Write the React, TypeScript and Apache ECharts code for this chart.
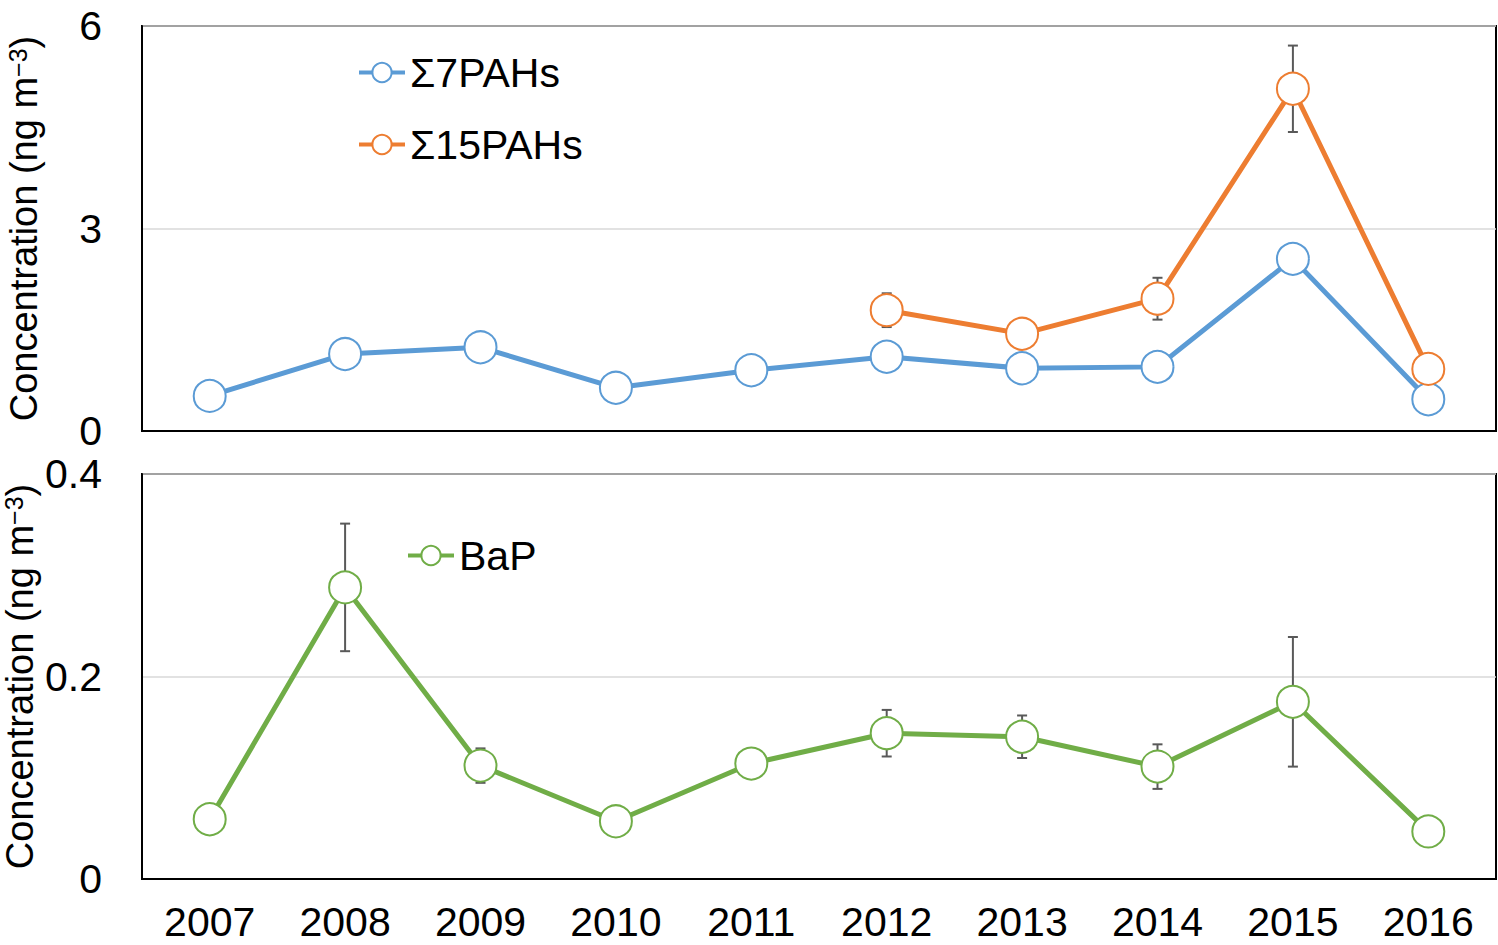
import React, { useEffect, useRef } from "react";
import * as echarts from "echarts";

const years = ["2007", "2008", "2009", "2010", "2011", "2012", "2013", "2014", "2015", "2016"];
const pah7 = [0.52, 1.14, 1.24, 0.64, 0.9, 1.1, 0.93, 0.95, 2.55, 0.47];
const pah15 = [null, null, null, null, null, 1.79, 1.44, 1.96, 5.07, 0.92];
const pah15Err = [0, 0, 0, 0, 0, 0.25, 0.15, 0.31, 0.64, 0.15];
const bap = [0.059, 0.288, 0.112, 0.057, 0.114, 0.144, 0.1405, 0.111, 0.175, 0.047];
const bapErr = [0, 0.063, 0.017, 0, 0, 0.023, 0.021, 0.022, 0.064, 0];

const FONT = "Liberation Sans, Arial, sans-serif";
const BLUE = "#5B9BD5";
const ORANGE = "#ED7D31";
const GREEN = "#70AD47";

function errData(vals: (number | null)[], errs: number[]) {
  const out: number[][] = [];
  vals.forEach((v, i) => {
    if (v != null && errs[i] > 0) out.push([i, v - errs[i], v + errs[i]]);
  });
  return out;
}

function errRender(params: any, api: any) {
  const i = api.value(0);
  const lo = api.coord([i, api.value(1)]);
  const hi = api.coord([i, api.value(2)]);
  const c = 5;
  const style = { stroke: "#595959", lineWidth: 2, fill: "none" };
  return {
    type: "group",
    children: [
      { type: "line", shape: { x1: lo[0], y1: lo[1], x2: hi[0], y2: hi[1] }, style },
      { type: "line", shape: { x1: hi[0] - c, y1: hi[1], x2: hi[0] + c, y2: hi[1] }, style },
      { type: "line", shape: { x1: lo[0] - c, y1: lo[1], x2: lo[0] + c, y2: lo[1] }, style },
    ],
  };
}

export default function App() {
  const ref = useRef<HTMLDivElement>(null);
  useEffect(() => {
    document.body.style.margin = "0";
    const chart = echarts.init(ref.current!, null, { renderer: "svg" });
    const yName = "{a|Concentration (ng m}{b|−3}{a|)}";
    const nameStyle = {
      rich: {
        a: { fontSize: 38, fontFamily: FONT, color: "#000", lineHeight: 38, verticalAlign: "bottom" },
        b: { fontSize: 25, fontFamily: FONT, color: "#000", lineHeight: 38, verticalAlign: "top" },
      },
    };
    const xCommon = {
      type: "category",
      data: years,
      boundaryGap: true,
      axisLine: { lineStyle: { color: "#000", width: 2 } },
      axisTick: { inside: true, length: 12, lineStyle: { color: "#000", width: 2 } },
      splitLine: { show: false },
    };
    const yCommon = {
      type: "value",
      min: 0,
      nameLocation: "middle",
      nameRotate: 90,
      nameMoveOverlap: false,
      nameTextStyle: nameStyle,
      axisLine: { show: true, lineStyle: { color: "#000", width: 2 } },
      axisTick: { show: false },
      splitLine: { show: true, lineStyle: { color: "#d9d9d9", width: 1.5 } },
      axisLabel: { fontSize: 41, fontFamily: FONT, color: "#000", margin: 40 },
    };
    const sym = { symbol: "circle", symbolSize: 32 };
    const gridCommon = {
      left: 142,
      width: 1354,
      height: 405,
      show: true,
      borderColor: "#000",
      borderWidth: 2,
      backgroundColor: "transparent",
      containLabel: false,
      outerBoundsMode: "none",
    };
    const legendCommon = {
      padding: 0,
      itemWidth: 46,
      itemHeight: 24,
      lineStyle: { width: 4 },
      itemStyle: { borderWidth: 2 },
      textStyle: { fontSize: 41, fontFamily: FONT, color: "#000" },
    };
    chart.setOption({
      animation: false,
      backgroundColor: "#fff",
      grid: [
        { ...gridCommon, top: 26 },
        { ...gridCommon, top: 474 },
      ],
      legend: [
        {
          ...legendCommon,
          data: ["Σ7PAHs", "Σ15PAHs"],
          orient: "vertical",
          left: 357,
          top: 52,
          itemGap: 31,
        },
        {
          ...legendCommon,
          data: ["BaP"],
          left: 406,
          top: 535,
        },
      ],
      xAxis: [
        { ...xCommon, gridIndex: 0, axisLabel: { show: false } },
        {
          ...xCommon,
          gridIndex: 1,
          axisLabel: { fontSize: 41, lineHeight: 34, fontFamily: FONT, color: "#000", margin: 26 },
        },
      ],
      yAxis: [
        { ...yCommon, gridIndex: 0, max: 6, interval: 3, name: yName, nameGap: 99 },
        { ...yCommon, gridIndex: 1, max: 0.4, interval: 0.2, name: yName, nameGap: 103 },
      ],
      series: [
        {
          type: "custom",
          name: "err15",
          xAxisIndex: 0,
          yAxisIndex: 0,
          renderItem: errRender,
          data: errData(pah15, pah15Err),
          z: 1,
          silent: true,
        },
        {
          type: "custom",
          name: "errBap",
          xAxisIndex: 1,
          yAxisIndex: 1,
          renderItem: errRender,
          data: errData(bap, bapErr),
          z: 1,
          silent: true,
        },
        {
          type: "line",
          name: "Σ7PAHs",
          xAxisIndex: 0,
          yAxisIndex: 0,
          data: pah7,
          ...sym,
          z: 3,
          lineStyle: { color: BLUE, width: 5 },
          itemStyle: { color: "#fff", borderColor: BLUE, borderWidth: 2 },
        },
        {
          type: "line",
          name: "Σ15PAHs",
          xAxisIndex: 0,
          yAxisIndex: 0,
          data: pah15,
          ...sym,
          z: 4,
          lineStyle: { color: ORANGE, width: 5 },
          itemStyle: { color: "#fff", borderColor: ORANGE, borderWidth: 2 },
        },
        {
          type: "line",
          name: "BaP",
          xAxisIndex: 1,
          yAxisIndex: 1,
          data: bap,
          ...sym,
          z: 3,
          lineStyle: { color: GREEN, width: 5 },
          itemStyle: { color: "#fff", borderColor: GREEN, borderWidth: 2 },
        },
      ],
    });
    return () => chart.dispose();
  }, []);
  return <div ref={ref} style={{ width: 1498, height: 945 }} />;
}
